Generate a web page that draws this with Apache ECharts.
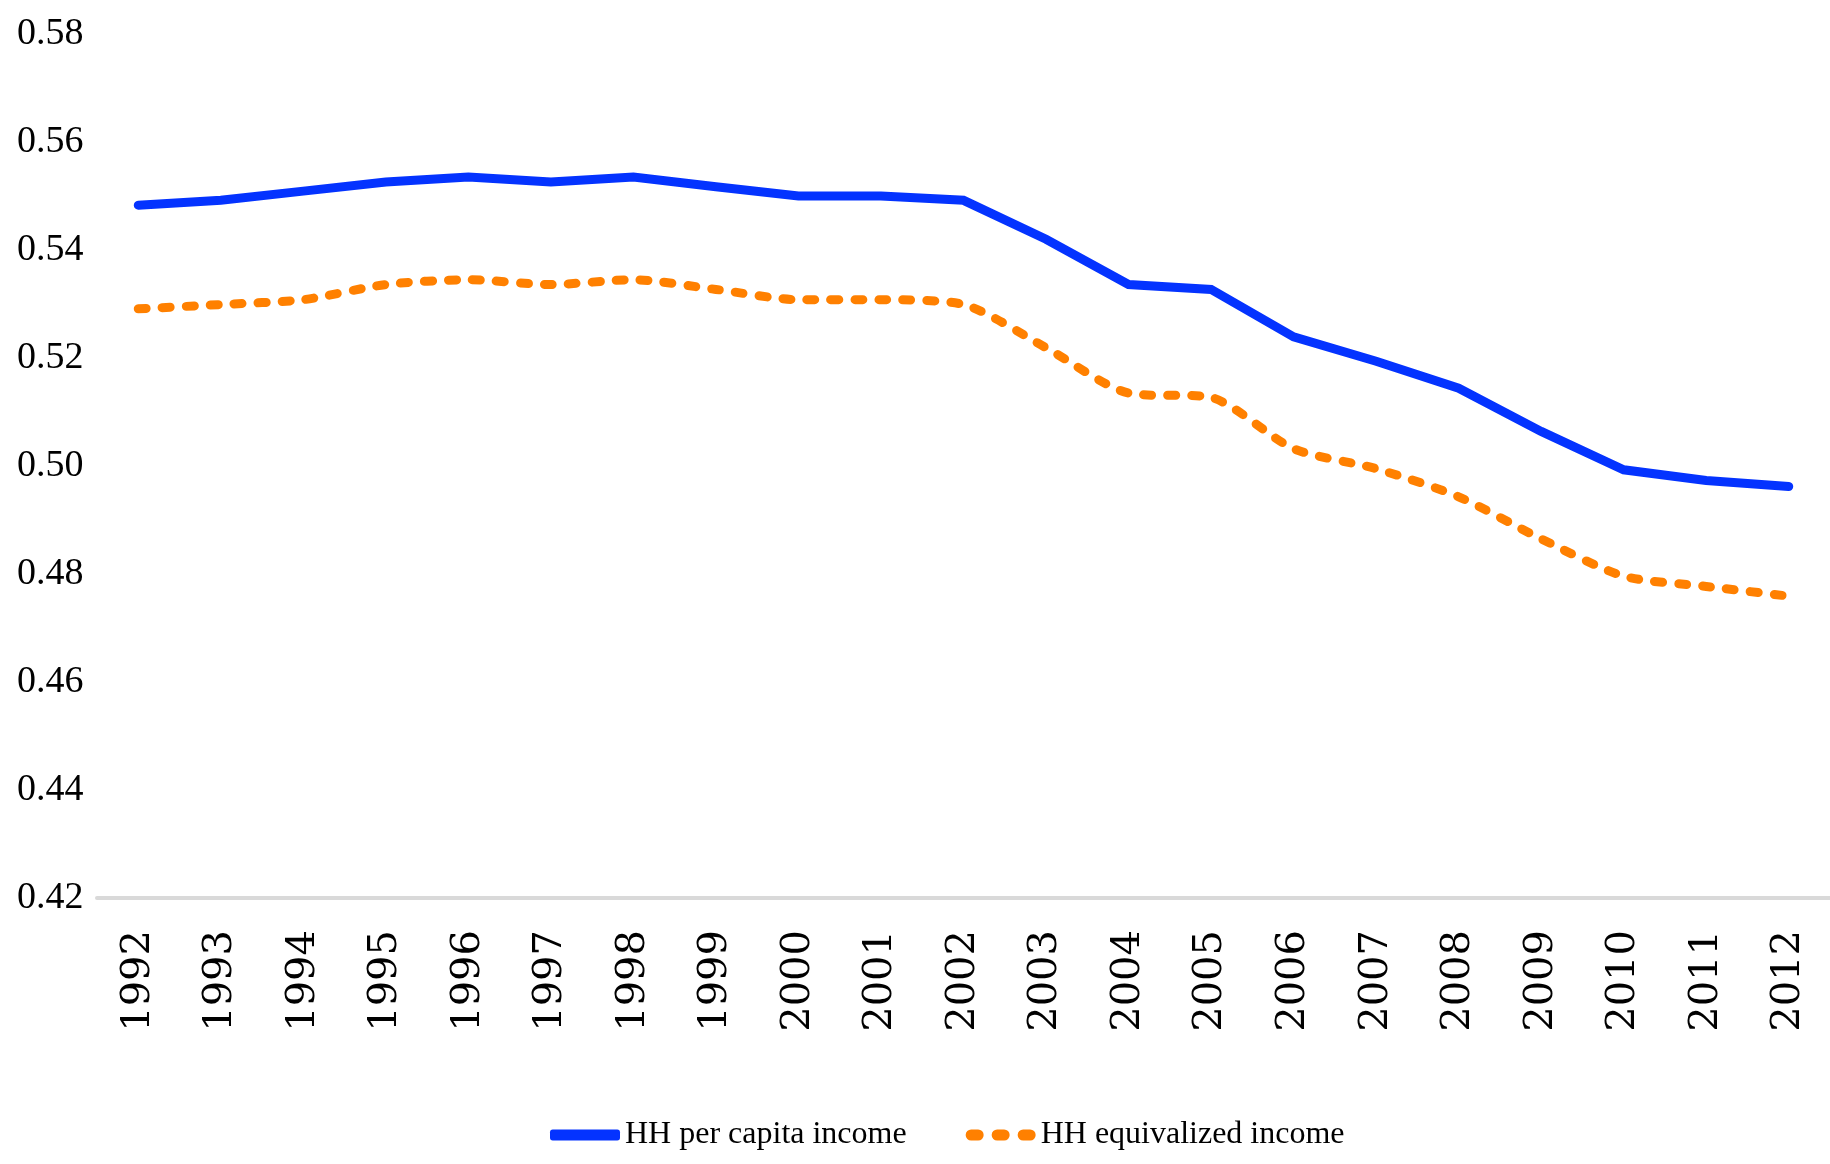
<!DOCTYPE html>
<html>
<head>
<meta charset="utf-8">
<script src="https://cdn.jsdelivr.net/npm/echarts@6/dist/echarts.min.js"></script>
<style>
  html, body { margin: 0; padding: 0; background: #fff; }
  #chart { width: 1830px; height: 1164px; }
</style>
</head>
<body>
<div id="chart"></div>
<script>
  // values
  var years = ['1992', '1993', '1994', '1995', '1996', '1997', '1998', '1999', '2000', '2001', '2002',
    '2003', '2004', '2005', '2006', '2007', '2008', '2009', '2010', '2011', '2012']
  var perCapita = [0.5483, 0.5492, 0.5509, 0.5526, 0.5535, 0.5526, 0.5535, 0.5517, 0.5500, 0.5500, 0.5492,
    0.5420, 0.5336, 0.5327, 0.5239, 0.5194, 0.5144, 0.5064, 0.4993, 0.4973, 0.4962]
  var equivalized = [0.5291, 0.5299, 0.5308, 0.5336, 0.5345, 0.5336, 0.5345, 0.5327, 0.5308, 0.5308, 0.5299,
    0.5219, 0.5135, 0.5127, 0.5032, 0.4995, 0.4943, 0.4865, 0.4796, 0.4777, 0.4759]
  var seriesNames = ['HH per capita income', 'HH equivalized income']

  var serif = '"Liberation Serif", "DejaVu Serif", serif'
  // three rounded dashes for the dashed series legend (70 x 11 box)
  var dotsIcon = 'path://M5.5,0h7a5.5,5.5 0 0 1 0,11h-7a5.5,5.5 0 0 1 0,-11z' +
    'M31.5,0h7a5.5,5.5 0 0 1 0,11h-7a5.5,5.5 0 0 1 0,-11z' +
    'M57.5,0h7a5.5,5.5 0 0 1 0,11h-7a5.5,5.5 0 0 1 0,-11z'
  var chart = echarts.init(document.getElementById('chart'))

  chart.setOption({
    animation: false,
    color: ['#0433FF', '#FF8000'],
    grid: {
      left: 97,
      right: 0,
      top: 34,
      bottom: 266
    },
    legend: {
      data: [
        { name: seriesNames[0], icon: 'roundRect' },
        { name: seriesNames[1], icon: dotsIcon }
      ],
      bottom: 8,
      left: 545,
      itemWidth: 70,
      itemHeight: 11,
      itemGap: 59,
      textStyle: {
        fontFamily: serif,
        fontSize: 32,
        color: '#000'
      }
    },
    xAxis: {
      type: 'category',
      data: years,
      axisLine: {
        lineStyle: { color: '#d9d9d9', width: 4 }
      },
      axisTick: { show: false },
      axisLabel: {
        rotate: 90,
        margin: 32,
        fontFamily: '"DejaVu Serif", serif',
        fontSize: 40,
        color: '#000'
      }
    },
    yAxis: {
      type: 'value',
      min: 0.42,
      max: 0.58,
      interval: 0.02,
      splitLine: { show: false },
      axisLine: { show: false },
      axisTick: { show: false },
      axisLabel: {
        align: 'left',
        margin: 80,
        fontFamily: serif,
        fontSize: 38,
        color: '#000',
        formatter: function(v) {
          return v.toFixed(2)
        }
      }
    },
    series: [
      {
        name: seriesNames[0],
        type: 'line',
        data: perCapita,
        symbol: 'none',
        lineStyle: {
          width: 9,
          cap: 'round',
          join: 'miter'
        }
      },
      {
        name: seriesNames[1],
        type: 'line',
        data: equivalized,
        symbol: 'none',
        smooth: 0.25,
        lineStyle: {
          width: 9,
          type: [8, 16],
          cap: 'round'
        }
      }
    ]
  })
</script>
</body>
</html>
